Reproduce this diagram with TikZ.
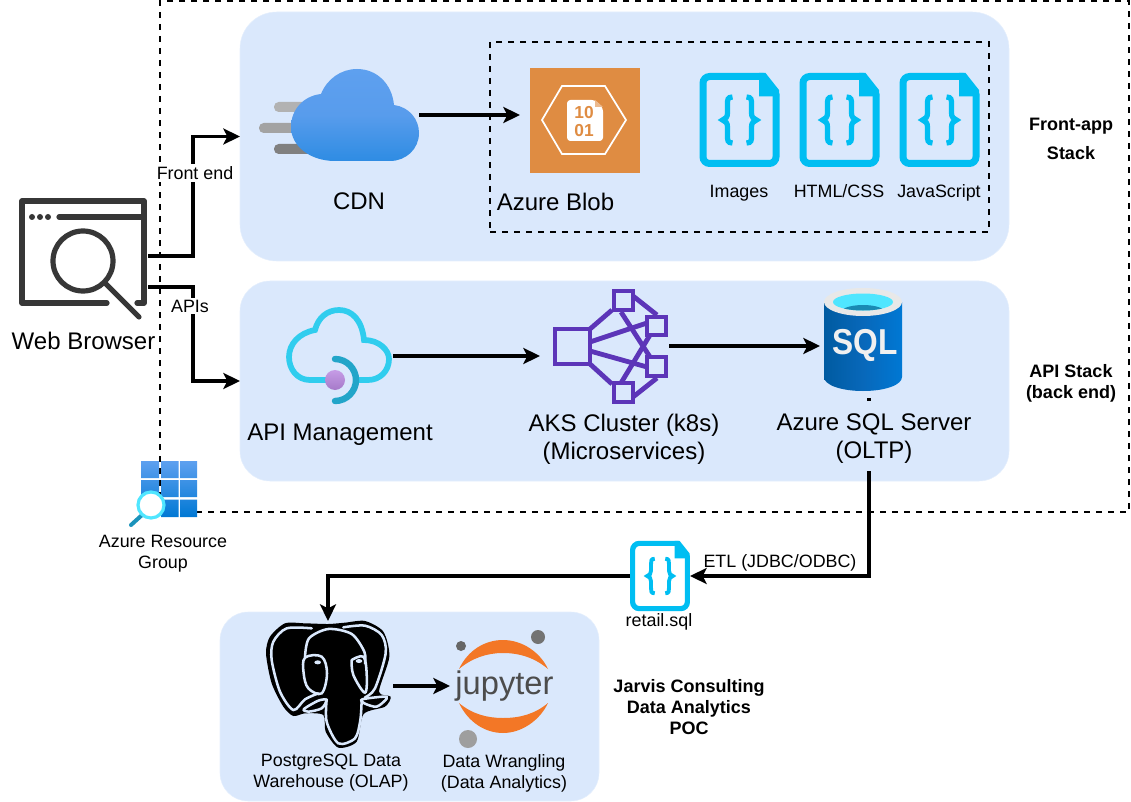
\documentclass[tikz,border=0pt]{standalone}
\usepackage{fontspec}
\setmainfont{Liberation Sans}
\usetikzlibrary{arrows.meta, positioning, calc}
\definecolor{panelblue}{HTML}{DAE8FC}
\definecolor{filecyan}{HTML}{00BEF2}
\definecolor{blobOrange}{HTML}{DF8C42}
\definecolor{aksPurple}{HTML}{5C35B8}
\definecolor{browserGray}{HTML}{373737}
\definecolor{jupOrange}{HTML}{F37726}
\definecolor{azureTop}{HTML}{5EA0EF}
\definecolor{azureMid}{HTML}{589CEC}
\definecolor{azureLow}{HTML}{2E8CE3}
\definecolor{azureDeep}{HTML}{0078D4}
\definecolor{sqlLeft}{HTML}{005BA1}
\definecolor{sqlMid}{HTML}{0868BA}
\definecolor{sqlTop}{HTML}{50E6FF}
\definecolor{sqlWater}{HTML}{198AB3}
\definecolor{apimCloud}{HTML}{30CDEE}
\definecolor{apimArc}{HTML}{22A5C9}
\definecolor{apimBallTop}{HTML}{C69CE6}
\definecolor{apimBallLow}{HTML}{A67AC9}
\definecolor{lensHandle}{HTML}{1B93BB}
\tikzset{
	boxsize/.style 2 args={minimum width=#1*0.75pt, minimum height=#2*0.75pt, inner sep=0pt, outer sep=0pt},
	panel/.style={rectangle, fill=panelblue, draw=panelblue!70!white, line width=0.4pt},
	iconbox/.style={rectangle},
	biglabel/.style={align=center, font=\fontsize{18}{21}\selectfont},
	smalllabel/.style={align=center, font=\fontsize{13.4}{15.75}\selectfont},
	boldlabel/.style={align=center, font=\fontsize{13.5}{15.75}\selectfont\bfseries},
	flow/.style={draw, line width=2.5pt, -{Stealth[length=12.5pt, width=12pt, inset=3pt]}},
	dashbox/.style={draw, line width=1.9pt, dash pattern=on 4.5pt off 4.5pt},
	codefile/.pic={
		\draw[filecyan, line width=#1 pt, rounded corners=5pt, line cap=round] (24,-43.5) -- (-36.5,-43.5) -- (-36.5,43.5) -- (36.5,43.5) -- (36.5,-26);
		\fill[filecyan] (19.5,-47) -- (26,-47) -- (39.5,-30) -- (39.5,-23.5) -- (19.5,-23.5) -- cycle;
		\foreach \sgn in {1,-1} {
			\draw[filecyan, line width=0.75*#1 pt, xscale=\sgn] (-7,-23) .. controls (-12,-23) and (-12,-20) .. (-12,-16) -- (-12,-7) .. controls (-12,-3) and (-14,-1) .. (-17,0) .. controls (-14,1) and (-12,3) .. (-12,7) -- (-12,16) .. controls (-12,20) and (-12,23) .. (-7,23);
		}
	}
}
\begin{document}
\begin{tikzpicture}[x=0.75pt, y=-0.75pt]
	\useasboundingbox (0,0) rectangle (1131,802);
	
	% Panels
	\node[panel, boxsize={769}{249}, rounded corners=27.5pt] (stackfront) at (624.5,136.5) {};
	\node[panel, boxsize={769}{200}, rounded corners=22.5pt] (stackapi) at (624.5,381) {};
	\node[panel, boxsize={379}{189}, rounded corners=21pt] (stackdata) at (409.5,706.5) {};
	
	% Dashed groups
	\node[dashbox, boxsize={969}{511}] (resgroup) at (644.5,256.5) {};
	\node[dashbox, boxsize={499}{190}] (assets) at (739.5,137) {};
	
	% Icon places, for the connectors
	\node[iconbox, boxsize={129}{106}] (browser) at (83.5,252) {};
	\node[iconbox, boxsize={160}{92}] (cdn) at (339,115) {};
	\node[iconbox, boxsize={120}{116}] (blob) at (580,115) {};
	\node[iconbox, boxsize={107}{98}] (apim) at (339.5,356) {};
	\node[iconbox, boxsize={129}{118}] (aks) at (604.5,346) {};
	\node[iconbox, boxsize={98}{110}] (sqldb) at (869,343) {};
	\node[iconbox, boxsize={60}{70}] (retail) at (660,576) {};
	\node[iconbox, boxsize={130}{130}] (pgdw) at (328,686) {};
	\node[iconbox, boxsize={106}{122}] (jupyter) at (503,689) {};
	\coordinate (webfront) at (148,256);
	\coordinate (webapi) at (148,287);
	
	% Web browser icon
	\draw[browserGray, line width=3.9pt, line cap=round, line join=round] (107,303) -- (22,303) -- (22,201) -- (144,201) -- (144,303) -- (137,303);
	\draw[browserGray, line width=3.9pt, line cap=round] (59,217) -- (144,217);
	\foreach \dotx in {32,40,48} {
		\fill[browserGray] (\dotx,217) circle (3);
	}
	\draw[browserGray, line width=3.9pt] (83,261) circle (30);
	\draw[browserGray, line width=3.9pt, line cap=round] (105,283) -- (139,317);
	
	% CDN icon
	\fill[black!30, rounded corners=3.5pt] (274,102) rectangle (320,112);
	\fill[black!36, rounded corners=3.5pt] (259,123) rectangle (310,133);
	\fill[black!50, rounded corners=3.5pt] (274,144) rectangle (320,154);
	\shade[top color=azureTop, bottom color=azureLow, middle color=azureMid] (321,94) .. controls (327,79) and (341,69) .. (357,69) .. controls (377,69) and (392,84) .. (394,105) .. controls (409,107) and (419,119) .. (419,133) .. controls (419,149) and (406,161) .. (390,161) -- (335,161) .. controls (310,161) and (291,146) .. (291,127) .. controls (291,110) and (303,96) .. (321,94) -- cycle;
	
	% Azure Blob icon
	\fill[blobOrange] (530,68) rectangle (640,173);
	\draw[white, line width=1.3pt] (542,120) -- (562,86) -- (605,86) -- (626,120) -- (605,154) -- (562,154) -- cycle;
	\fill[white, rounded corners=2.5pt] (567,100) -- (595,100) -- (603,108) -- (603,141) -- (567,141) -- cycle;
	\fill[blobOrange!60!white] (595,100) -- (603,107) -- (595,107) -- cycle;
	\node[text=blobOrange, font=\fontsize{13}{13.5}\selectfont\bfseries, align=center, inner sep=0pt] (blobbits) at (584,121.5) {10\\01};
	
	% Code file icons
	\pic at (739.5,120) {codefile=5.25};
	\pic at (839.5,120) {codefile=5.25};
	\pic at (939.5,120) {codefile=5.25};
	\pic[scale=0.75] at (660,576) {codefile=3.9};
	
	% API Management icon
	\draw[apimCloud, line width=4.3pt, line cap=round] (327,380) -- (310,380) .. controls (297,380) and (289,369) .. (289,357) .. controls (289,344) and (299,333) .. (315,330) .. controls (318,318) and (327,310) .. (339,310) .. controls (352,310) and (362,320) .. (364,340) .. controls (379,340) and (389,350) .. (389,359) .. controls (389,371) and (380,380) .. (368,380) -- (358,380);
	\draw[apimArc, line width=4.8pt, line cap=round] (335,359) .. controls (347,359) and (356,369) .. (356,380) .. controls (356,391) and (347,401) .. (335,401);
	\shade[top color=apimBallTop, bottom color=apimBallLow] (335,380) circle (10);
	
	% AKS icon
	\begin{scope}[draw=aksPurple, line width=3.6pt]
		\draw (555,329) rectangle (590,364);
		\draw (614,291) rectangle (633,310);
		\draw (647,317) rectangle (666,335);
		\draw (647,357) rectangle (666,376);
		\draw (614,383) rectangle (633,402);
		\draw (590,329) -- (612,310);
		\draw (590,364) -- (612,384);
		\draw (590,342) -- (647,323);
		\draw (590,351) -- (647,367);
		\draw (621,312) -- (650,357);
		\draw (621,383) -- (650,335);
		\draw (633,296) -- (657,315);
		\draw (633,397) -- (657,378);
	\end{scope}
	
	% SQL icon
	\shade[left color=sqlLeft, right color=azureDeep, middle color=sqlMid] (824,302) -- (824,377) .. controls (824,385) and (841,391) .. (863,391) .. controls (885,391) and (902,385) .. (902,377) -- (902,302) -- cycle;
	\fill[black!9] (863,302) ellipse (39 and 14);
	\fill[sqlTop] (863,302) ellipse (30 and 8.5);
	\begin{scope}
		\clip (863,302) ellipse (30 and 8.5);
		\fill[sqlWater] (863,313) ellipse (23 and 8);
	\end{scope}
	\node[text=black!6, font=\fontsize{27}{27}\selectfont\bfseries, inner sep=0pt, xscale=0.88, transform shape] (sqlmark) at (865,345) {SQL};
	
	% Resource group icon
	\begin{scope}
		\clip (141,461) rectangle (159,478) (161,461) rectangle (178.5,478) (180,461) rectangle (197,478)
			(141,480) rectangle (159,497) (161,480) rectangle (178.5,497) (180,480) rectangle (197,497)
			(141,499.5) rectangle (159,517) (161,499.5) rectangle (178.5,517) (180,499.5) rectangle (197,517);
		\shade[top color=azureTop, bottom color=azureDeep] (141,461) rectangle (197,517);
	\end{scope}
	\draw[lensHandle, line width=3pt, line cap=round] (142,515) -- (131,525);
	\draw[sqlTop, fill=white, line width=2.4pt] (151,505) circle (13);
	
	% PostgreSQL icon
	\begin{scope}[shift={(255,610)}, x=0.25pt, y=-0.25pt]
		\fill[black] plot[smooth cycle, tension=0.45] coordinates {(220,42) (150,40) (90,40) (45,80) (33,130) (50,220) (85,290) (115,318) (150,310) (205,315) (212,365) (250,413) (305,395) (326,312) (390,290) (407,260) (372,245) (403,140) (385,65) (330,33) (270,38)};
		\begin{scope}[draw=panelblue, line width=1.9pt, line cap=round]
			% ears
			\draw plot[smooth, tension=0.5] coordinates {(170,55) (95,55) (55,95) (50,150) (75,245) (115,300) (150,268) (190,250)};
			\draw plot[smooth, tension=0.5] coordinates {(265,52) (330,47) (380,75) (392,130) (360,235) (330,262)};
			% head and eye rings
			\draw plot[smooth, tension=0.5] coordinates {(150,140) (162,85) (220,57) (290,72) (328,125) (330,160)};
			\draw plot[smooth cycle, tension=0.6] coordinates {(150,143) (200,140) (216,190) (200,250) (160,235) (146,190)};
			\draw plot[smooth, tension=0.6] coordinates {(290,150) (325,140) (335,190) (330,248) (295,195) (290,150)};
			% trunk
			\draw plot[smooth, tension=0.5] coordinates {(215,268) (215,335) (250,400) (300,385) (316,330) (320,270)};
			% tusks
			\draw plot[smooth cycle, tension=0.5] coordinates {(147,297) (190,272) (214,270) (200,295) (160,305)};
			\draw plot[smooth cycle, tension=0.5] coordinates {(322,268) (385,260) (395,266) (365,290) (328,280)};
		\end{scope}
		\fill[panelblue] (188,157) ellipse (10 and 6);
		\fill[panelblue] (312,153) ellipse (10 and 6);
	\end{scope}
	
	% Jupyter icon
	\fill[jupOrange] (459,669) .. controls (468,650) and (485,640) .. (503,640) .. controls (522,640) and (540,652) .. (548,669) .. controls (535,658) and (520,653) .. (503,653) .. controls (487,653) and (472,658) .. (459,669) -- cycle;
	\fill[jupOrange] (459,703) .. controls (468,722) and (485,733) .. (503,733) .. controls (522,733) and (540,720) .. (548,703) .. controls (535,714) and (520,718) .. (503,718) .. controls (487,718) and (472,714) .. (459,703) -- cycle;
	\fill[black!60] (461,646) circle (5);
	\fill[black!55] (538,637) circle (7);
	\fill[black!38] (468,739) circle (9);
	\node[text=black!70, font=\fontsize{24.5}{24.5}\selectfont, inner sep=0pt, anchor=base] (jupmark) at (504.5,694) {jupyter};
	
	% Paths
	\draw[flow] (webfront) -- ++(45,0) |- (stackfront.west);
	\draw[flow] (webapi) -- ++(45,0) |- (stackapi.west);
	\draw[flow] (cdn.east) -- (cdn.east -| blob.west);
	\draw[flow] (apim.east) -- (apim.east -| aks.west);
	\draw[flow] (aks.east) -- (aks.east -| sqldb.west);
	\draw[flow] (sqldb.south) |- (retail.east);
	\draw[flow] (retail.west) -| (pgdw.north);
	\draw[flow] (pgdw.east) -- (pgdw.east -| jupyter.west);
	
	% Labels
	\node[smalllabel, fill=white, inner sep=1.5pt] (frontlbl) at (195,173) {Front end};
	\node[smalllabel, fill=white, inner sep=1.5pt] (apislbl) at (190,306) {APIs};
	\node[biglabel] (browserlbl) at (83.5,341) {Web Browser};
	\node[biglabel] (cdnlbl) at (359,201) {CDN};
	\node[biglabel] (bloblbl) at (555.5,202) {Azure Blob};
	\node[smalllabel, anchor=base] (imageslbl) at (739,198) {Images};
	\node[smalllabel, anchor=base] (htmllbl) at (839,198) {HTML/CSS};
	\node[smalllabel, anchor=base] (jslbl) at (939,198) {JavaScript};
	\node[biglabel] (apimlbl) at (340,435) {API Management};
	\node[biglabel] (akslbl) at (624,439) {AKS Cluster (k8s)\\(Microservices)};
	\node[panel, draw=none, boxsize={196}{70}] (sqlgap) at (874,436) {};
	\node[biglabel] (sqllbl) at (874,439) {Azure SQL Server\\(OLTP)};
	\node[smalllabel] (grouplbl) at (163,553.5) {Azure Resource\\Group};
	\node[smalllabel] (etllbl) at (780,563) {ETL (JDBC/ODBC)};
	\node[smalllabel] (retaillbl) at (659,622) {retail.sql};
	\node[smalllabel] (pglbl) at (331,773) {PostgreSQL Data\\Warehouse (OLAP)};
	\node[smalllabel] (wranglelbl) at (504,773) {Data Wrangling\\(Data Analytics)};
	\node[boldlabel, font=\fontsize{13.5}{21.75}\selectfont\bfseries] (frontstack) at (1071,138.5) {Front-app\\Stack};
	\node[boldlabel] (apistack) at (1071,383) {API Stack\\(back end)};
	\node[boldlabel] (jarvislbl) at (689,707) {Jarvis Consulting\\Data Analytics\\POC};
\end{tikzpicture}
\end{document}
